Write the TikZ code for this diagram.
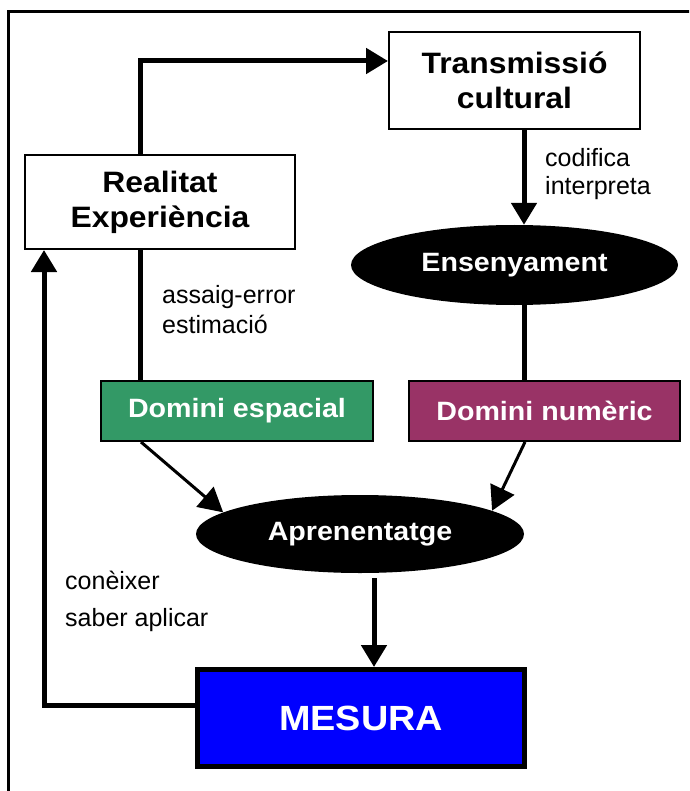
\documentclass[tikz,border=0pt]{standalone}
\usepackage{fontspec}
\setmainfont{Liberation Sans}
\newfontfamily\boxfont{Liberation Sans}[FakeStretch=1.08]
\usetikzlibrary{shapes.geometric,arrows.meta}
\definecolor{espacial}{HTML}{339966}
\definecolor{numeric}{HTML}{993366}
\definecolor{mesurablue}{HTML}{0000FF}
\begin{document}
\begin{tikzpicture}[x=1pt,y=-1pt,
  plainbox/.style={draw, line width=2pt, fill=white, inner sep=0pt, align=center,
    font=\boxfont\bfseries\fontsize{29.5}{35}\selectfont},
  colbox/.style={draw, line width=2pt, text=white, inner sep=0pt,
    font=\boxfont\bfseries\fontsize{26.5}{34}\selectfont},
  oval/.style={ellipse, fill=black, text=white, inner sep=0pt,
    font=\boxfont\bfseries\fontsize{26.5}{34}\selectfont},
  lbl/.style={anchor=west, inner sep=0pt, align=left},
  conn/.style={line width=5pt},
  thinconn/.style={line width=3pt},
  arr/.style={-{Triangle[width=25pt,length=22pt]}},
  thinarr/.style={-{Triangle[width=26pt,length=24pt]}}]
\useasboundingbox (0,0) rectangle (689,791);
\clip (0,0) rectangle (689,791);
\fill[white] (0,0) rectangle (689,791);

% outer frame (only top and left edges show)
\draw[line width=3pt] (8,820) -- (8,11.5) -- (720,11.5);

% boxes and ellipses
\node[plainbox, minimum width=251pt, minimum height=97pt] (trans) at (514.5,80.5) {Transmissió\\cultural};
\node[plainbox, minimum width=270pt, minimum height=94pt] (real) at (160,202) {Realitat\\Experiència};
\node[oval, minimum width=327pt, minimum height=80pt] (ens) at (514.5,265) {Ensenyament};
\node[colbox, fill=espacial, minimum width=272pt, minimum height=60pt] (esp) at (237,411) {Domini espacial};
\node[colbox, fill=numeric, minimum width=271pt, minimum height=60pt] (num) at (544.5,411) {Domini numèric};
\node[oval, minimum width=328pt, minimum height=78pt] (apr) at (360,534) {Aprenentatge};
\node[draw, line width=5pt, fill=mesurablue, text=white, inner sep=0pt,
  minimum width=327pt, minimum height=97pt,
  font=\boxfont\bfseries\fontsize{35}{40}\selectfont] (mes) at (361,718) {MESURA};

% edge labels
\node[lbl, font=\fontsize{25}{30}\selectfont] (lab1) at (162,310) {assaig-error\\estimació};
\node[lbl, font=\fontsize{25}{28}\selectfont] (lab2) at (545,174) {codifica\\interpreta};
\node[lbl, font=\fontsize{25}{37}\selectfont] (lab3) at (65,601.5) {conèixer\\saber aplicar};

% routing coordinates
\coordinate (bend) at (140,61);
\coordinate (cx) at (524,0);
\coordinate (e1) at (141,0);
\coordinate (e2) at (525,0);
\coordinate (mx) at (374,0);
\coordinate (fb) at (44,705);

% connectors
\draw[conn, arr] (real.north -| bend) -- (bend) -- (bend -| trans.west);
\draw[conn, arr] (trans.south -| cx) -- (ens.north -| cx);
\draw[conn] (ens.south -| cx) -- (num.north -| cx);
\draw[conn] (real.south -| bend) -- (esp.north -| bend);
\draw[thinconn, thinarr] (esp.south -| e1) -- (apr.171.6);
\draw[thinconn, thinarr] (num.south -| e2) -- (apr.10.4);
\draw[conn, arr, shorten <=5pt] (apr.south -| mx) -- (mes.north -| mx);
\draw[conn, arr] (mes.west |- fb) -- (fb) -- (real.south -| fb);
\end{tikzpicture}
\end{document}
